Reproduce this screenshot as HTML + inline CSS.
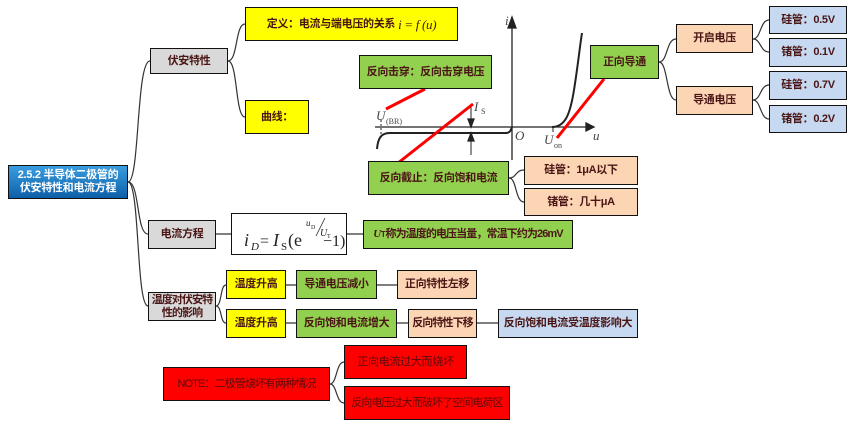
<!DOCTYPE html>
<html><head><meta charset="utf-8"><style>
body{margin:0;background:#fff;}
.b{position:absolute;box-sizing:border-box;border:1.5px solid #111;display:flex;align-items:center;justify-content:center;font:bold 11px "Liberation Sans","Noto Sans CJK SC",sans-serif;color:#4a1515;text-align:center;line-height:13px;white-space:nowrap;letter-spacing:-0.3px;overflow:hidden}
.y{background:#ffff00}.g{background:#92d050}.p{background:#fcd5b5}.l{background:#c6d9f1}.gr{background:#d9d9d9}.r{background:#ff0000;color:#5a0a0a}
.t{letter-spacing:-0.9px}
</style></head><body>
<div style="position:relative;width:855px;height:425px;overflow:hidden">
<svg width="855" height="425" style="position:absolute;left:0;top:0" fill="none">
<g stroke="#333" stroke-width="1.2">
<path d="M128 182 C140 182,136 61,150 61"/>
<path d="M128 182 C140 182,136 234,148 234"/>
<path d="M128 182 C140 182,136 306,148 306"/>
<path d="M228 61 C238 61,235 24,245 24"/>
<path d="M228 61 C238 61,235 117,245 117"/>
<path d="M216 234 H231 M347 234 H363"/>
<path d="M216 306 C222 306,220 285,226 285"/>
<path d="M216 306 C222 306,220 323,226 323"/>
<path d="M286 285 H296 M377 285 H397 M286 323 H296 M397 323 H408 M477 323 H498"/>
<path d="M509 178 C517 178,515 170,524 170"/>
<path d="M509 178 C517 178,515 202,524 202"/>
<path d="M659 62 C668 62,666 39,676 39"/>
<path d="M659 62 C668 62,666 100,676 100"/>
<path d="M753 39 C761 39,760 20,769 20"/>
<path d="M753 39 C761 39,760 52,769 52"/>
<path d="M753 100 C761 100,760 85,769 85"/>
<path d="M753 100 C761 100,760 119,769 119"/>
<path d="M330 384 C337 384,336 362,344 362"/>
<path d="M330 384 C337 384,336 403,344 403"/>
</g>
<g stroke="#222" stroke-width="1.3">
<path d="M375 127 H592"/><path d="M586 123 L594 127 L586 131 Z" fill="#222"/>
<path d="M512 160 V20"/><path d="M508 28 L512 17 L516 28 Z" fill="#222"/>
<path d="M377 149 C378 138,381 133,390 133 H506 C510 133,511 130,512 127" stroke-width="2"/>
<path d="M552 127 C565 127,570 115,574 90 C578 65,580 45,582 33" stroke-width="2"/>
<path d="M381 120 V140" stroke-dasharray="2 2" stroke-width="1"/>
<path d="M471 107 V127 M471 133 V155" stroke-width="1"/>
<path d="M468 119 L471 127 L474 119 Z M468 141 L471 133 L474 141 Z" fill="#222"/>
<path d="M553 127 V132" stroke-width="1"/>
</g>
<g font-family="Liberation Serif,serif" font-style="italic" font-size="13" fill="#444" stroke="none">
<text x="505" y="25">i</text><text x="515" y="140">O</text><text x="593" y="140">u</text>
<text x="376" y="120">U</text><text x="386" y="124" font-size="8" font-style="normal">(BR)</text>
<text x="474" y="111">I</text><text x="481" y="114" font-size="8" font-style="normal">S</text>
<text x="544" y="144">U</text><text x="554" y="148" font-size="8" font-style="normal">on</text>
</g>
<g stroke="#ff0000" stroke-width="3">
<path d="M386 109 L425 89"/><path d="M398 163 L473 104"/><path d="M557 138 L604 79"/>
</g>
</svg>
<div class="b" style="left:8px;top:165px;width:120px;height:34px;background:linear-gradient(#3a9ee0,#0d5fa8);color:#fff">2.5.2 半导体二极管的<br>伏安特性和电流方程</div>
<div class="b gr" style="left:150px;top:48px;width:78px;height:26px">伏安特性</div>
<div class="b y" style="left:245px;top:7px;width:213px;height:34px">定义：电流与端电压的关系 <i style="font-family:'Liberation Serif',serif;font-weight:normal;font-size:13px">&nbsp;i = f (u)</i></div>
<div class="b y" style="left:245px;top:100px;width:64px;height:34px">曲线：</div>
<div class="b g" style="left:359px;top:55px;width:133px;height:34px">反向击穿：反向击穿电压</div>
<div class="b g" style="left:368px;top:161px;width:141px;height:34px">反向截止：反向饱和电流</div>
<div class="b p" style="left:524px;top:156px;width:114px;height:29px">硅管：1μA以下</div>
<div class="b p" style="left:524px;top:188px;width:114px;height:28px">锗管：几十μA</div>
<div class="b g" style="left:590px;top:45px;width:69px;height:34px">正向导通</div>
<div class="b p" style="left:676px;top:24px;width:77px;height:29px">开启电压</div>
<div class="b p" style="left:676px;top:86px;width:77px;height:29px">导通电压</div>
<div class="b l" style="left:769px;top:6px;width:78px;height:28px">硅管：0.5V</div>
<div class="b l" style="left:769px;top:38px;width:78px;height:29px">锗管：0.1V</div>
<div class="b l" style="left:769px;top:71px;width:78px;height:29px">硅管：0.7V</div>
<div class="b l" style="left:769px;top:105px;width:78px;height:28px">锗管：0.2V</div>
<div class="b gr" style="left:148px;top:220px;width:68px;height:29px">电流方程</div>
<div class="b" style="left:231px;top:213px;width:116px;height:42px;background:#fff;border-width:1px;font-weight:normal;font-style:normal;letter-spacing:0">
<svg width="114" height="40" style="position:absolute;left:0;top:0"><g font-family="Liberation Serif,serif" font-style="normal" font-weight="normal" fill="#222">
<text x="12" y="32" font-size="18" font-style="italic">i</text><text x="19" y="36" font-size="11" font-style="italic">D</text>
<text x="28" y="32" font-size="16">=</text><text x="41" y="32" font-size="18" font-style="italic">I</text><text x="49" y="36" font-size="11">S</text>
<text x="56" y="32" font-size="18">(e</text><text x="74" y="12" font-size="9" font-style="italic">u</text><text x="79" y="15" font-size="6">D</text>
<line x1="84" y1="22" x2="93" y2="4" stroke="#222" stroke-width="0.8"/><text x="88" y="22" font-size="10" font-style="italic">U</text><text x="95" y="24" font-size="6">T</text>
<text x="91" y="32" font-size="16">−1)</text></g></svg></div>
<div class="b g" style="left:363px;top:220px;width:210px;height:29px"><i style="font-family:'Liberation Serif',serif">U</i><span style="font-size:8px">T</span><span class="t">称为温度的电压当量，常温下约为26mV</span></div>
<div class="b gr t" style="left:148px;top:292px;width:68px;height:29px">温度对伏安特<br>性的影响</div>
<div class="b y" style="left:226px;top:270px;width:60px;height:29px">温度升高</div>
<div class="b g" style="left:296px;top:270px;width:81px;height:29px">导通电压减小</div>
<div class="b p" style="left:397px;top:270px;width:80px;height:29px">正向特性左移</div>
<div class="b y" style="left:226px;top:309px;width:60px;height:29px">温度升高</div>
<div class="b g" style="left:296px;top:309px;width:101px;height:29px">反向饱和电流增大</div>
<div class="b p t" style="left:408px;top:309px;width:69px;height:29px">反向特性下移</div>
<div class="b l" style="left:498px;top:309px;width:140px;height:29px">反向饱和电流受温度影响大</div>
<div class="b r t" style="left:163px;top:367px;width:167px;height:34px;font-weight:normal">NOTE：二极管烧坏有两种情况</div>
<div class="b r" style="left:344px;top:345px;width:123px;height:34px;font-weight:normal">正向电流过大而烧坏</div>
<div class="b r t" style="left:344px;top:386px;width:166px;height:34px;font-weight:normal">反向电压过大而破坏了空间电荷区</div>
</div>
</body></html>
